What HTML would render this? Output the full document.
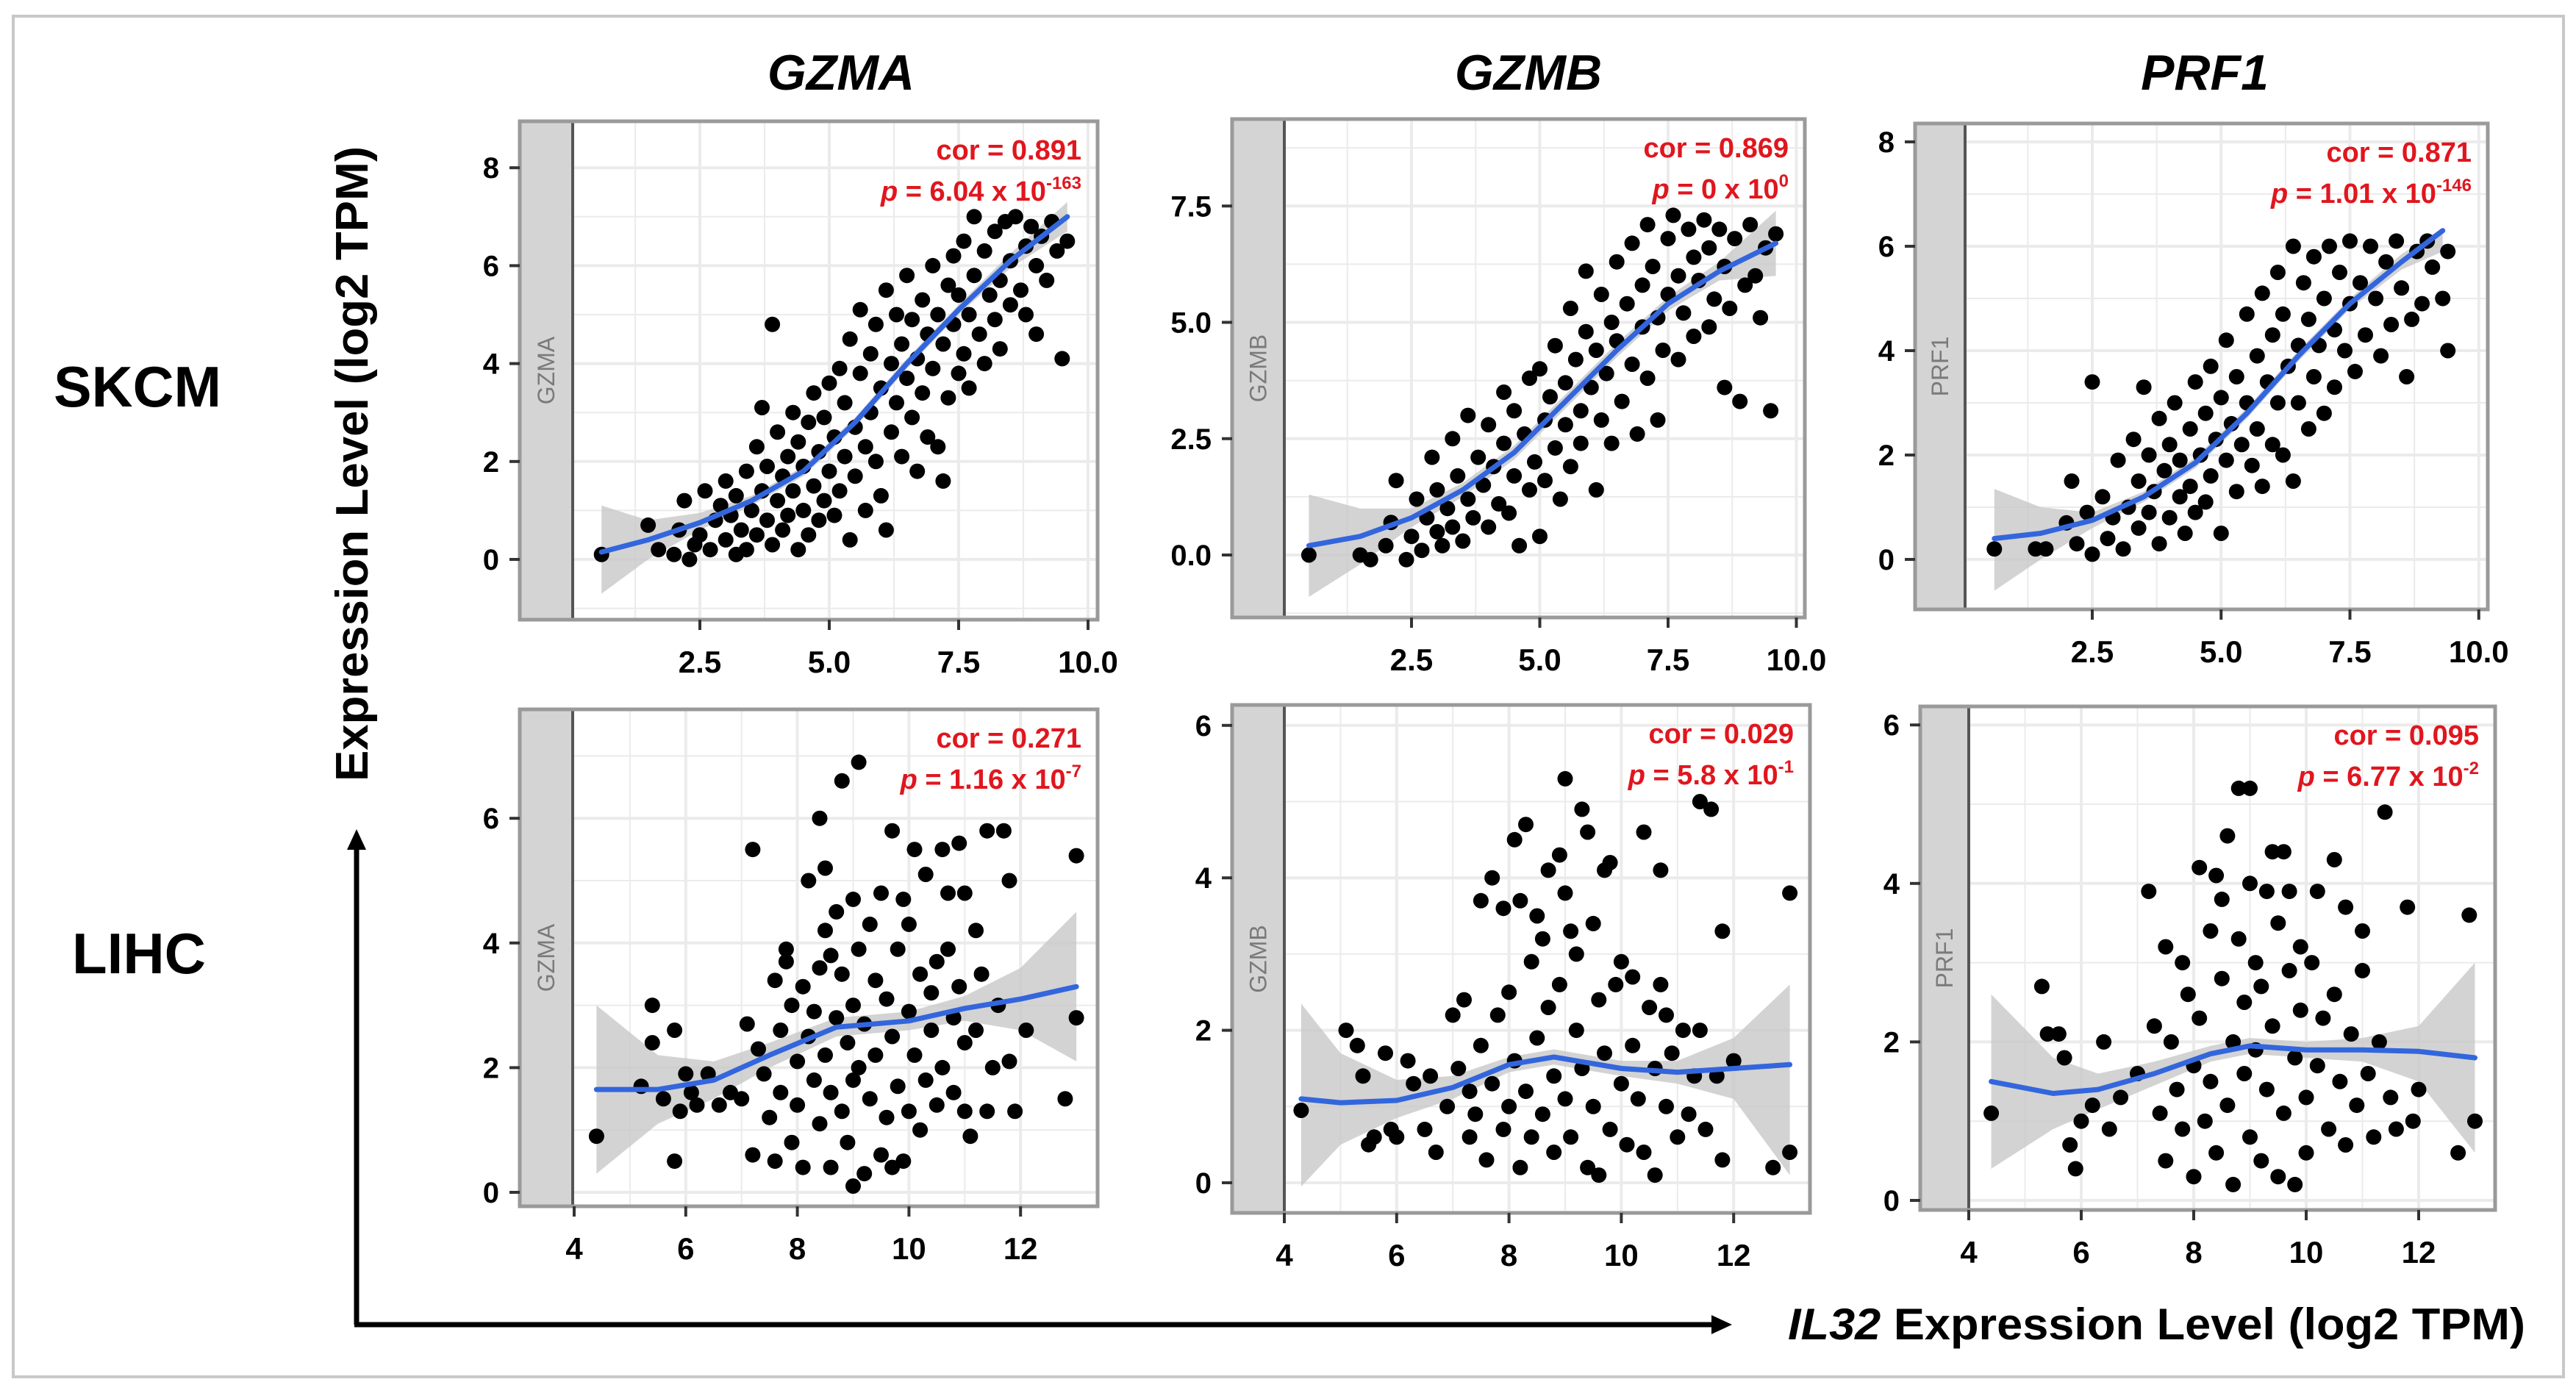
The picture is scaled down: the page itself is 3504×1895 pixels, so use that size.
<!DOCTYPE html>
<html><head><meta charset="utf-8">
<style>
html,body{margin:0;padding:0;background:#fff;}
svg{display:block;font-family:"Liberation Sans",Arial,sans-serif;}
</style></head>
<body>
<svg id="fig" width="3504" height="1895" viewBox="0 0 3504 1895" xmlns="http://www.w3.org/2000/svg">
<rect x="18" y="22" width="3469" height="1851" fill="#fff" stroke="#c8c8c8" stroke-width="4"/>
<text x="1144" y="122" font-size="68" font-weight="bold" font-style="italic" text-anchor="middle">GZMA</text>
<text x="2079" y="122" font-size="68" font-weight="bold" font-style="italic" text-anchor="middle">GZMB</text>
<text x="2999" y="122" font-size="68" font-weight="bold" font-style="italic" text-anchor="middle">PRF1</text>
<text x="187" y="553" font-size="78" font-weight="bold" text-anchor="middle" textLength="228" lengthAdjust="spacingAndGlyphs">SKCM</text>
<text x="189" y="1324" font-size="78" font-weight="bold" text-anchor="middle" textLength="182" lengthAdjust="spacingAndGlyphs">LIHC</text>
<text transform="translate(500,631) rotate(-90)" font-size="62" font-weight="bold" text-anchor="middle" textLength="864" lengthAdjust="spacingAndGlyphs">Expression Level (log2 TPM)</text>
<line x1="485" y1="1802" x2="485" y2="1150" stroke="#000" stroke-width="7"/>
<polygon points="485,1128 472,1156 498,1156" fill="#000"/>
<line x1="482" y1="1802" x2="2330" y2="1802" stroke="#000" stroke-width="7"/>
<polygon points="2356,1802 2328,1789 2328,1815" fill="#000"/>
<text x="2432" y="1822" font-size="60" font-weight="bold" textLength="1003" lengthAdjust="spacingAndGlyphs"><tspan font-style="italic">IL32</tspan> Expression Level (log2 TPM)</text>
<g id="panels"></g>
</svg>
<script>
// ---- data ----
const skcmGzmaX=[0.6,1.5,1.7,2.0,2.1,2.2,2.3,2.4,2.5,2.6,2.7,2.8,2.9,3.0,3.0,3.1,3.2,3.2,3.3,3.4,3.4,3.5,3.6,3.6,3.7,3.7,3.8,3.8,3.9,3.9,4.0,4.0,4.1,4.1,4.2,4.2,4.3,4.3,4.4,4.4,4.5,4.5,4.6,4.6,4.7,4.7,4.8,4.8,4.9,4.9,5.0,5.0,5.1,5.1,5.2,5.2,5.3,5.3,5.4,5.4,5.5,5.5,5.6,5.6,5.7,5.7,5.8,5.8,5.9,5.9,6.0,6.0,6.1,6.1,6.2,6.2,6.3,6.3,6.4,6.4,6.5,6.5,6.6,6.6,6.7,6.7,6.8,6.8,6.9,6.9,7.0,7.0,7.1,7.1,7.2,7.2,7.3,7.3,7.4,7.4,7.5,7.5,7.6,7.6,7.7,7.7,7.8,7.8,7.9,8.0,8.0,8.1,8.2,8.2,8.3,8.3,8.4,8.5,8.5,8.6,8.7,8.8,8.8,8.9,9.0,9.0,9.1,9.2,9.3,9.4,9.5,9.6];
const skcmGzmaY=[0.1,0.7,0.2,0.1,0.6,1.2,0.0,0.3,0.5,1.4,0.2,0.8,1.1,0.4,1.6,0.9,0.1,1.3,0.6,1.8,0.2,1.0,2.3,0.5,1.4,3.1,0.8,1.9,4.8,0.3,1.2,2.6,0.6,1.7,2.1,0.9,3.0,1.4,0.2,2.4,1.0,1.9,2.8,0.5,1.5,3.4,2.2,0.8,1.2,2.9,3.6,1.8,0.9,2.5,3.9,1.4,2.1,3.2,4.5,0.4,2.7,1.7,3.8,5.1,2.3,1.0,4.2,3.0,2.0,4.8,3.5,1.3,0.6,5.5,2.6,4.0,3.2,5.0,2.1,4.4,3.7,5.8,2.9,4.9,4.1,1.8,3.4,5.3,4.6,2.5,6.0,3.9,5.0,2.3,4.4,1.6,5.6,3.3,6.2,4.8,3.8,5.4,4.2,6.5,5.0,3.5,7.0,5.8,4.6,6.3,4.0,5.4,6.7,4.9,5.7,4.3,6.9,6.1,5.2,7.0,5.5,6.4,5.0,6.8,6.0,4.6,6.6,5.7,6.9,6.3,4.1,6.5];
const skcmGzmbX=[0.5,1.5,1.7,2.0,2.1,2.2,2.4,2.5,2.6,2.7,2.8,2.9,3.0,3.0,3.1,3.2,3.3,3.3,3.4,3.5,3.6,3.6,3.7,3.8,3.9,4.0,4.0,4.1,4.2,4.3,4.3,4.4,4.5,4.5,4.6,4.7,4.8,4.8,4.9,5.0,5.0,5.1,5.1,5.2,5.3,5.3,5.4,5.5,5.5,5.6,5.6,5.7,5.8,5.8,5.9,5.9,6.0,6.1,6.1,6.2,6.2,6.3,6.4,6.4,6.5,6.5,6.6,6.7,6.8,6.8,6.9,7.0,7.0,7.1,7.1,7.2,7.3,7.3,7.4,7.5,7.5,7.6,7.7,7.7,7.8,7.9,8.0,8.0,8.1,8.2,8.3,8.3,8.4,8.5,8.6,8.6,8.7,8.8,8.9,9.0,9.1,9.2,9.3,9.4,9.5,9.6];
const skcmGzmbY=[0.0,0.0,-0.1,0.2,0.7,1.6,-0.1,0.4,1.2,0.1,0.8,2.1,0.5,1.4,0.2,1.0,2.5,0.6,1.7,0.3,1.2,3.0,0.8,2.1,1.5,0.6,2.8,1.9,1.1,3.5,2.4,0.9,1.7,3.1,0.2,2.6,1.4,3.8,2.0,4.0,0.4,2.9,1.6,3.4,4.5,2.3,1.2,3.7,2.8,5.3,1.9,4.2,3.1,2.4,6.1,4.8,3.6,1.4,4.4,2.9,5.6,3.9,5.0,2.4,6.3,4.6,3.3,5.4,4.1,6.7,2.6,5.8,4.9,3.8,7.1,6.2,5.1,2.9,4.4,6.8,5.6,7.3,4.2,6.0,5.2,7.0,6.4,4.7,5.9,7.2,6.6,4.9,5.5,7.0,3.6,6.2,5.3,6.8,3.3,5.8,7.1,6.0,5.1,6.6,3.1,6.9];
const skcmPrf1X=[0.6,1.4,1.6,2.0,2.1,2.2,2.4,2.5,2.5,2.7,2.8,2.9,3.0,3.1,3.2,3.3,3.4,3.4,3.5,3.6,3.6,3.7,3.8,3.8,3.9,4.0,4.0,4.1,4.2,4.2,4.3,4.4,4.4,4.5,4.5,4.6,4.7,4.7,4.8,4.8,4.9,5.0,5.0,5.1,5.1,5.2,5.3,5.3,5.4,5.5,5.5,5.6,5.7,5.7,5.8,5.8,5.9,6.0,6.0,6.1,6.1,6.2,6.2,6.3,6.4,6.4,6.5,6.5,6.6,6.7,6.7,6.8,6.8,6.9,7.0,7.0,7.1,7.2,7.2,7.3,7.4,7.5,7.5,7.6,7.7,7.8,7.9,8.0,8.1,8.2,8.3,8.4,8.5,8.6,8.7,8.8,8.9,9.0,9.1,9.3,9.4,9.4];
const skcmPrf1Y=[0.2,0.2,0.2,0.7,1.5,0.3,0.9,3.4,0.1,1.2,0.4,0.8,1.9,0.2,1.0,2.3,0.6,1.5,3.3,0.9,2.0,1.3,0.3,2.7,1.7,0.8,2.2,3.0,1.2,1.9,0.5,2.5,1.4,3.4,0.9,2.0,1.1,2.8,3.7,1.6,2.3,0.5,3.1,1.9,4.2,2.6,1.3,3.5,2.2,4.7,3.0,1.8,3.9,2.5,5.1,1.4,3.4,4.3,2.2,5.5,3.0,2.0,4.7,3.7,6.0,1.5,4.1,3.0,5.3,2.5,4.6,5.8,3.5,4.1,2.8,5.0,6.0,4.4,3.3,5.5,4.0,6.1,4.9,3.6,5.3,4.3,6.0,5.0,3.9,5.7,4.5,6.1,5.2,3.5,4.6,5.9,4.9,6.1,5.6,5.0,4.0,5.9];
const lihcGzmaX=[4.4,5.2,5.4,5.4,5.6,5.8,5.8,5.9,6.0,6.1,6.2,6.4,6.6,6.8,7.0,7.1,7.2,7.2,7.3,7.4,7.5,7.6,7.6,7.7,7.7,7.8,7.8,7.9,7.9,8.0,8.0,8.1,8.1,8.2,8.2,8.3,8.3,8.4,8.4,8.4,8.5,8.5,8.5,8.6,8.6,8.6,8.7,8.7,8.8,8.8,8.8,8.9,8.9,9.0,9.0,9.0,9.0,9.1,9.1,9.1,9.2,9.2,9.3,9.3,9.4,9.4,9.5,9.5,9.6,9.6,9.7,9.7,9.7,9.8,9.8,9.9,9.9,10.0,10.0,10.0,10.1,10.1,10.2,10.2,10.3,10.3,10.4,10.4,10.5,10.5,10.6,10.6,10.7,10.7,10.8,10.8,10.9,10.9,11.0,11.0,11.0,11.1,11.2,11.2,11.3,11.4,11.4,11.5,11.6,11.7,11.8,11.8,11.9,12.1,12.8,13.0,13.0];
const lihcGzmaY=[0.9,1.7,3.0,2.4,1.5,2.6,0.5,1.3,1.9,1.6,1.4,1.9,1.4,1.6,1.5,2.7,5.5,0.6,2.3,1.9,1.2,3.4,0.5,2.6,1.6,3.7,3.9,0.8,3.0,2.1,1.4,3.3,0.4,5.0,2.5,1.8,2.9,6.0,3.6,1.1,5.2,4.2,2.2,3.8,1.6,0.4,2.8,4.5,6.6,1.3,3.5,0.8,2.4,4.7,3.0,1.8,0.1,6.9,2.0,3.9,0.3,2.7,1.5,4.3,3.4,2.2,0.6,4.8,1.2,3.1,5.8,2.5,0.4,3.9,1.7,4.7,0.5,2.9,1.3,4.3,5.5,2.2,3.5,1.0,5.1,1.8,3.2,2.6,1.4,3.7,5.5,2.0,4.8,3.9,1.6,2.8,5.6,3.3,1.3,2.4,4.8,0.9,2.6,4.2,3.5,1.3,5.8,2.0,3.0,5.8,5.0,2.1,1.3,2.6,1.5,5.4,2.8];
const lihcGzmbX=[4.3,5.1,5.3,5.4,5.5,5.6,5.8,5.9,6.0,6.2,6.3,6.5,6.6,6.7,6.9,7.0,7.1,7.2,7.3,7.3,7.4,7.5,7.5,7.6,7.7,7.7,7.8,7.9,7.9,8.0,8.0,8.1,8.1,8.2,8.2,8.3,8.3,8.4,8.4,8.5,8.5,8.6,8.6,8.7,8.7,8.8,8.8,8.9,8.9,9.0,9.0,9.0,9.1,9.1,9.2,9.2,9.3,9.3,9.4,9.4,9.5,9.5,9.6,9.6,9.7,9.7,9.8,9.8,9.9,10.0,10.0,10.1,10.2,10.2,10.3,10.4,10.4,10.5,10.6,10.6,10.7,10.7,10.8,10.8,10.9,11.0,11.1,11.2,11.3,11.4,11.4,11.5,11.6,11.7,11.8,11.8,12.0,12.7,13.0,13.0];
const lihcGzmbY=[0.95,2.0,1.8,1.4,0.5,0.6,1.7,0.7,0.6,1.6,1.3,0.7,1.4,0.4,1.0,2.2,1.5,2.4,1.2,0.6,0.9,3.7,1.8,0.3,4.0,1.3,2.2,3.6,0.7,1.0,2.5,4.5,1.6,0.2,3.7,4.7,1.2,2.9,0.6,3.5,1.9,0.9,3.2,4.1,2.3,1.4,0.4,4.3,2.6,5.3,3.8,1.1,3.3,0.6,2.0,3.0,4.9,1.5,4.6,0.2,3.4,1.0,2.4,0.1,4.1,1.7,4.2,0.7,2.6,1.3,2.9,0.5,2.7,1.8,1.1,4.6,0.4,2.3,1.5,0.1,4.1,2.6,1.0,2.2,1.7,0.6,2.0,0.9,1.4,5.0,2.0,0.7,4.9,1.4,3.3,0.3,1.6,0.2,3.8,0.4];
const lihcPrf1X=[4.4,5.3,5.4,5.6,5.7,5.8,5.9,6.0,6.2,6.4,6.5,6.7,7.0,7.2,7.3,7.4,7.5,7.5,7.6,7.7,7.8,7.8,7.9,8.0,8.0,8.1,8.1,8.2,8.3,8.3,8.4,8.4,8.5,8.5,8.6,8.6,8.7,8.7,8.8,8.8,8.9,8.9,9.0,9.0,9.0,9.1,9.1,9.2,9.2,9.3,9.3,9.4,9.4,9.5,9.5,9.6,9.6,9.7,9.7,9.8,9.8,9.9,9.9,10.0,10.0,10.1,10.2,10.2,10.3,10.4,10.5,10.5,10.6,10.7,10.7,10.8,10.9,11.0,11.0,11.1,11.2,11.3,11.4,11.5,11.6,11.8,11.9,12.0,12.7,12.9,13.0];
const lihcPrf1Y=[1.1,2.7,2.1,2.1,1.8,0.7,0.4,1.0,1.2,2.0,0.9,1.3,1.6,3.9,2.2,1.1,3.2,0.5,2.0,1.4,3.0,0.9,2.6,1.7,0.3,4.2,2.3,1.0,3.4,1.5,4.1,0.6,3.8,2.8,4.6,1.2,2.0,0.2,5.2,3.3,1.6,2.5,5.2,4.0,0.8,3.0,1.9,2.7,0.5,3.9,1.4,4.4,2.2,3.5,0.3,4.4,1.1,2.9,3.9,0.2,1.8,3.2,2.4,1.3,0.6,3.0,3.9,1.7,2.3,0.9,4.3,2.6,1.5,3.7,0.7,2.1,1.2,2.9,3.4,1.6,0.8,2.0,4.9,1.3,0.9,3.7,1.0,1.4,0.6,3.6,1.0];
// smooth fits: x, fit, lower, upper
const skcmGzmaFitX=[0.6,1.5,2.5,3.5,4.5,5.5,6.5,7.5,8.5,9.6];
const skcmGzmaFit=[0.15,0.4,0.75,1.2,1.8,2.8,4.0,5.1,6.1,7.0];
const skcmGzmaLo=[-0.7,0.0,0.6,1.1,1.7,2.7,3.9,5.0,5.95,6.7];
const skcmGzmaHi=[1.1,0.8,0.95,1.3,1.9,2.9,4.1,5.2,6.25,7.3];
const skcmGzmbFitX=[0.5,1.5,2.5,3.5,4.5,5.5,6.5,7.5,8.5,9.6];
const skcmGzmbFit=[0.2,0.4,0.8,1.4,2.2,3.3,4.4,5.4,6.1,6.7];
const skcmGzmbLo=[-0.9,-0.2,0.6,1.25,2.05,3.15,4.25,5.25,5.9,6.0];
const skcmGzmbHi=[1.3,1.0,1.0,1.55,2.35,3.45,4.55,5.55,6.3,7.4];
const skcmPrf1FitX=[0.6,1.5,2.5,3.5,4.5,5.5,6.5,7.5,8.5,9.3];
const skcmPrf1Fit=[0.4,0.5,0.75,1.2,1.85,2.8,3.9,4.9,5.7,6.3];
const skcmPrf1Lo=[-0.6,0.0,0.6,1.1,1.75,2.7,3.8,4.8,5.55,5.9];
const skcmPrf1Hi=[1.35,1.0,0.9,1.3,1.95,2.9,4.0,5.0,5.85,6.35];
const lihcGzmaFitX=[4.4,5.5,6.5,7.5,8.7,10,11,12,13];
const lihcGzmaFit=[1.65,1.65,1.8,2.2,2.65,2.75,2.95,3.1,3.3];
const lihcGzmaLo=[0.3,1.1,1.5,2.0,2.5,2.6,2.75,2.6,2.1];
const lihcGzmaHi=[3.0,2.2,2.1,2.4,2.8,2.9,3.15,3.6,4.5];
const lihcGzmbFitX=[4.3,5,6,7,8,8.8,10,11,12,13];
const lihcGzmbFit=[1.1,1.05,1.08,1.25,1.55,1.65,1.5,1.45,1.5,1.55];
const lihcGzmbLo=[-0.05,0.5,0.85,1.1,1.45,1.55,1.4,1.3,1.1,0.1];
const lihcGzmbHi=[2.35,1.7,1.35,1.4,1.65,1.75,1.6,1.6,1.9,2.6];
const lihcPrf1FitX=[4.4,5.5,6.3,7.3,8.3,9,10,11,12,13];
const lihcPrf1Fit=[1.5,1.35,1.4,1.6,1.85,1.95,1.9,1.9,1.88,1.8];
const lihcPrf1Lo=[0.4,0.9,1.15,1.45,1.75,1.85,1.8,1.75,1.5,0.6];
const lihcPrf1Hi=[2.6,1.8,1.6,1.75,1.95,2.05,2.0,2.05,2.2,3.0];
const xTicksSkcm=[2.5,5.0,7.5,10.0];
const xTickLabelsSkcm=["2.5","5.0","7.5","10.0"];
const xTicksLihc=[4,6,8,10,12];
const yTicksA=[0,2,4,6,8];
const yTicksB=[0,2.5,5.0,7.5];
const yTickLabelsB=["0.0","2.5","5.0","7.5"];
const yTicksL=[0,2,4,6];

const panels=[
 {name:'skcm-gzma',gene:'GZMA',L:707,R:1493,T:165,B:843,S:779,xv0:2.5,xp0:952,kx:70.4,yp0:761,ky:66.6,
  X:skcmGzmaX,Y:skcmGzmaY,FX:skcmGzmaFitX,F:skcmGzmaFit,LO:skcmGzmaLo,HI:skcmGzmaHi,
  xt:xTicksSkcm,xl:xTickLabelsSkcm,yt:yTicksA,yl:yTicksA.map(String),cor:'0.891',pm:'6.04',pe:'-163'},
 {name:'skcm-gzmb',gene:'GZMB',L:1676,R:2455,T:162,B:840,S:1747,xv0:2.5,xp0:1920,kx:69.8,yp0:755,ky:63.3,
  X:skcmGzmbX,Y:skcmGzmbY,FX:skcmGzmbFitX,F:skcmGzmbFit,LO:skcmGzmbLo,HI:skcmGzmbHi,
  xt:xTicksSkcm,xl:xTickLabelsSkcm,yt:yTicksB,yl:yTickLabelsB,cor:'0.869',pm:'0',pe:'0'},
 {name:'skcm-prf1',gene:'PRF1',L:2605,R:3384,T:168,B:829,S:2673,xv0:2.5,xp0:2846,kx:70.1,yp0:761,ky:71,
  X:skcmPrf1X,Y:skcmPrf1Y,FX:skcmPrf1FitX,F:skcmPrf1Fit,LO:skcmPrf1Lo,HI:skcmPrf1Hi,
  xt:xTicksSkcm,xl:xTickLabelsSkcm,yt:yTicksA,yl:yTicksA.map(String),cor:'0.871',pm:'1.01',pe:'-146'},
 {name:'lihc-gzma',gene:'GZMA',L:707,R:1493,T:965,B:1641,S:779,xv0:4,xp0:781,kx:75.9,yp0:1622,ky:84.8,
  X:lihcGzmaX,Y:lihcGzmaY,FX:lihcGzmaFitX,F:lihcGzmaFit,LO:lihcGzmaLo,HI:lihcGzmaHi,
  xt:xTicksLihc,xl:xTicksLihc.map(String),yt:yTicksL,yl:yTicksL.map(String),cor:'0.271',pm:'1.16',pe:'-7'},
 {name:'lihc-gzmb',gene:'GZMB',L:1676,R:2462,T:959,B:1650,S:1747,xv0:4,xp0:1747,kx:76.4,yp0:1609,ky:103.7,
  X:lihcGzmbX,Y:lihcGzmbY,FX:lihcGzmbFitX,F:lihcGzmbFit,LO:lihcGzmbLo,HI:lihcGzmbHi,
  xt:xTicksLihc,xl:xTicksLihc.map(String),yt:yTicksL,yl:yTicksL.map(String),cor:'0.029',pm:'5.8',pe:'-1'},
 {name:'lihc-prf1',gene:'PRF1',L:2612,R:3394,T:961,B:1646,S:2678,xv0:4,xp0:2678,kx:76.5,yp0:1633,ky:107.8,
  X:lihcPrf1X,Y:lihcPrf1Y,FX:lihcPrf1FitX,F:lihcPrf1Fit,LO:lihcPrf1Lo,HI:lihcPrf1Hi,
  xt:xTicksLihc,xl:xTicksLihc.map(String),yt:yTicksL,yl:yTicksL.map(String),cor:'0.095',pm:'6.77',pe:'-2'}
];
const NS='http://www.w3.org/2000/svg';
const root=document.getElementById('panels');
function mk(tag,attrs,parent){const e=document.createElementNS(NS,tag);for(const k in attrs)e.setAttribute(k,attrs[k]);parent.appendChild(e);return e;}
panels.forEach(p=>{
 const sx=v=>p.xp0+(v-p.xv0)*p.kx;
 const sy=v=>p.yp0-v*p.ky;
 const g=mk('g',{},root);
 
 
 const box=mk('rect',{x:p.L,y:p.T,width:p.R-p.L,height:p.B-p.T,fill:'#fff'},g);
 
 
 const steps=p.xt[1]-p.xt[0];
 for(let v=p.xt[0]-steps;v<=p.xt[p.xt.length-1]+0.01;v+=steps/2){
  const x=sx(v); if(x<=p.S+3||x>=p.R-3) continue;
  const gl=mk('line',{x1:x,x2:x,y1:p.T,y2:p.B,stroke:'#ebebeb','stroke-width':Math.abs((v-p.xt[0])/steps%1)<0.01?4:2},g);
  
  
 }
 const ys=p.yt[1]-p.yt[0];
 for(let v=-ys/2;v<=p.yt[p.yt.length-1]+ys;v+=ys/2){
  const y=sy(v); if(y<=p.T+3||y>=p.B-3) continue;
  const gl=mk('line',{x1:p.S,x2:p.R,y1:y,y2:y,stroke:'#ebebeb','stroke-width':Math.abs((v/ys)%1)<0.01?4:2},g);
  
  
 }
 let d='';
 p.FX.forEach((x,i)=>{d+=(i?'L':'M')+sx(x).toFixed(1)+' '+sy(p.HI[i]).toFixed(1);});
 for(let i=p.FX.length-1;i>=0;i--) d+='L'+sx(p.FX[i]).toFixed(1)+' '+sy(p.LO[i]).toFixed(1);
 const band=mk('path',{d:d+'Z',fill:'#c8c8c8','fill-opacity':'0.8'},g);
 
 
 p.X.forEach((x,i)=>{
  const c=mk('circle',{cx:sx(x).toFixed(1),cy:sy(p.Y[i]).toFixed(1),r:10.5,fill:'#000'},g);
  
  
 });
 const fl=mk('polyline',{points:p.FX.map((x,i)=>sx(x).toFixed(1)+','+sy(p.F[i]).toFixed(1)).join(' '),fill:'none',stroke:'#3366dd','stroke-width':7,'stroke-linejoin':'round','stroke-linecap':'round'},g);
 
 
 const st=mk('rect',{x:p.L,y:p.T,width:p.S-p.L,height:p.B-p.T,fill:'#d4d4d4'},g);
 
 
 const sl=mk('text',{transform:'translate('+((p.L+p.S)/2+11)+','+((p.T+p.B)/2)+') rotate(-90)','font-size':32,fill:'#7a7a7a','text-anchor':'middle'},g);
 sl.textContent=p.gene;
 
 
 const sb=mk('line',{x1:p.S,x2:p.S,y1:p.T,y2:p.B,stroke:'#555','stroke-width':4},g);
 
 
 const fr=mk('rect',{x:p.L,y:p.T,width:p.R-p.L,height:p.B-p.T,fill:'none',stroke:'#9a9a9a','stroke-width':5},g);
 
 
 p.yt.forEach((v,i)=>{
  const y=sy(v);
  const t=mk('line',{x1:p.L-14,x2:p.L,y1:y,y2:y,stroke:'#333','stroke-width':4},g);
  
  
  const lb=mk('text',{x:p.L-28,y:y+14,'font-size':40,'font-weight':'bold','text-anchor':'end'},g);
  lb.textContent=p.yl[i];
  
  
 });
 p.xt.forEach((v,i)=>{
  const x=sx(v);
  const t=mk('line',{x1:x,x2:x,y1:p.B,y2:p.B+14,stroke:'#333','stroke-width':4},g);
  
  
  const lb=mk('text',{x:x,y:p.B+72,'font-size':42,'font-weight':'bold','text-anchor':'middle'},g);
  lb.textContent=p.xl[i];
  
  
 });
 const c1=mk('text',{x:p.R-22,y:p.T+52,'font-size':38,'font-weight':'bold',fill:'#e0161e','text-anchor':'end'},g);
 c1.textContent='cor = '+p.cor;
 
 
 const c2=mk('text',{x:p.R-22,y:p.T+108,'font-size':38,'font-weight':'bold',fill:'#e0161e','text-anchor':'end'},g);
 
 
 const t1=mk('tspan',{'font-style':'italic'},c2); t1.textContent='p';
 const t2=mk('tspan',{},c2); t2.textContent=' = '+p.pm+' x 10';
 const t3=mk('tspan',{dy:-16,'font-size':24},c2); t3.textContent=p.pe;
});
</script>
</body></html>
